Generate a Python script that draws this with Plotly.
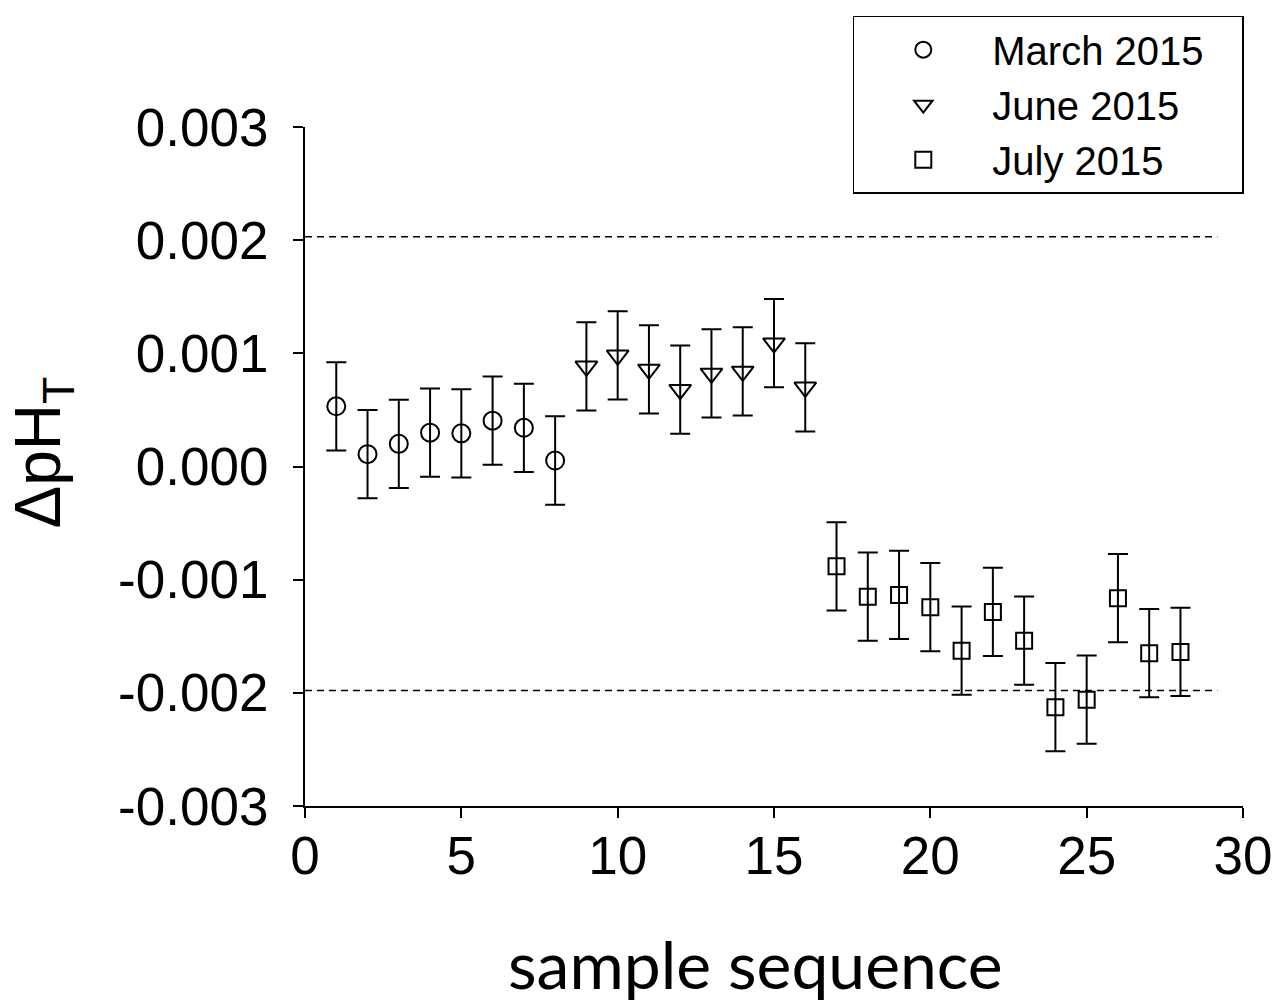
import plotly.graph_objects as go

# ---- data ----
march_x = [1, 2, 3, 4, 5, 6, 7, 8]
march_y = [0.000532, 0.000109, 0.000200, 0.000299, 0.000293, 0.000405, 0.000342, 0.000053]
june_x = [9, 10, 11, 12, 13, 14, 15, 16]
june_y = [0.000885, 0.000982, 0.000858, 0.000679, 0.000822, 0.000840, 0.001090, 0.000700]
july_x = [17, 18, 19, 20, 21, 22, 23, 24, 25, 26, 27, 28]
july_y = [-0.000882, -0.001150, -0.001135, -0.001243, -0.001628, -0.001285,
          -0.001539, -0.002127, -0.002061, -0.001164, -0.001650, -0.001639]
err = 0.00039

limit_x = [0, 29.18]
upper_limit = 0.00203
lower_limit = -0.00198

y_tickvals = [0.003, 0.002, 0.001, 0.0, -0.001, -0.002, -0.003]
y_ticktext = ["0.003", "0.002", "0.001", "0.000", "-0.001", "-0.002", "-0.003"]
x_tickvals = [0, 5, 10, 15, 20, 25, 30]
x_ticktext = ["0", "5", "10", "15", "20", "25", "30"]

series = [
    ("March 2015\u00a0\u00a0\u00a0", march_x, march_y, "circle-open", 18),
    ("June 2015", june_x, june_y, "triangle-down-open", 19),
    ("July 2015", july_x, july_y, "square-open", 16),
]

fig = go.Figure()

for ly in (upper_limit, lower_limit):
    fig.add_trace(go.Scatter(
        x=limit_x, y=[ly, ly], mode="lines",
        line=dict(color="black", width=1.5, dash="7px,5px"),
        showlegend=False, hoverinfo="skip"))

for name, xs, ys, sym, sz in series:
    fig.add_trace(go.Scatter(
        x=xs, y=ys, mode="markers", name=name,
        marker=dict(symbol=sym, size=sz, color="black", line=dict(width=2, color="black")),
        error_y=dict(type="constant", value=err, color="black", thickness=2, width=10),
    ))

fig.update_layout(
    width=1284, height=1001,
    margin=dict(l=305, r=36, t=127, b=195),
    paper_bgcolor="white", plot_bgcolor="white",
    font=dict(family="Liberation Sans, Arial, sans-serif", color="black"),
    showlegend=True,
    legend=dict(
        x=0.584, y=1.164, xanchor="left", yanchor="top",
        bordercolor="black", borderwidth=1.5, bgcolor="white",
        font=dict(size=40, family="Liberation Sans, Arial, sans-serif"),
        itemwidth=128,
    ),
    xaxis=dict(
        range=[0, 30], tickvals=x_tickvals, ticktext=x_ticktext,
        showline=True, linecolor="black", linewidth=2,
        ticks="outside", ticklen=10, tickwidth=1.5, tickcolor="black",
        showgrid=False, zeroline=False,
        tickfont=dict(size=53), ticklabelstandoff=-8,
    ),
    yaxis=dict(
        range=[-0.003, 0.003], tickvals=y_tickvals, ticktext=y_ticktext,
        showline=True, linecolor="black", linewidth=2,
        ticks="outside", ticklen=10, tickwidth=1.5, tickcolor="black",
        showgrid=False, zeroline=False,
        tickfont=dict(size=53), ticklabelstandoff=14,
    ),
    annotations=[
        dict(text="sample sequence", xref="paper", yref="paper",
             x=0.48, y=-0.232, xanchor="center", yanchor="middle",
             showarrow=False, font=dict(size=66, family="Lato, Carlito, sans-serif")),
        dict(text="ΔpH<sub>T</sub>", xref="paper", yref="paper",
             x=-0.28, y=0.521, xanchor="center", yanchor="middle", textangle=-90,
             showarrow=False, font=dict(size=64, family="Liberation Sans, Arial, sans-serif")),
    ],
)

fig.write_html("out.html", config={"displayModeBar": False},
               post_script="document.body.style.margin='0';")
